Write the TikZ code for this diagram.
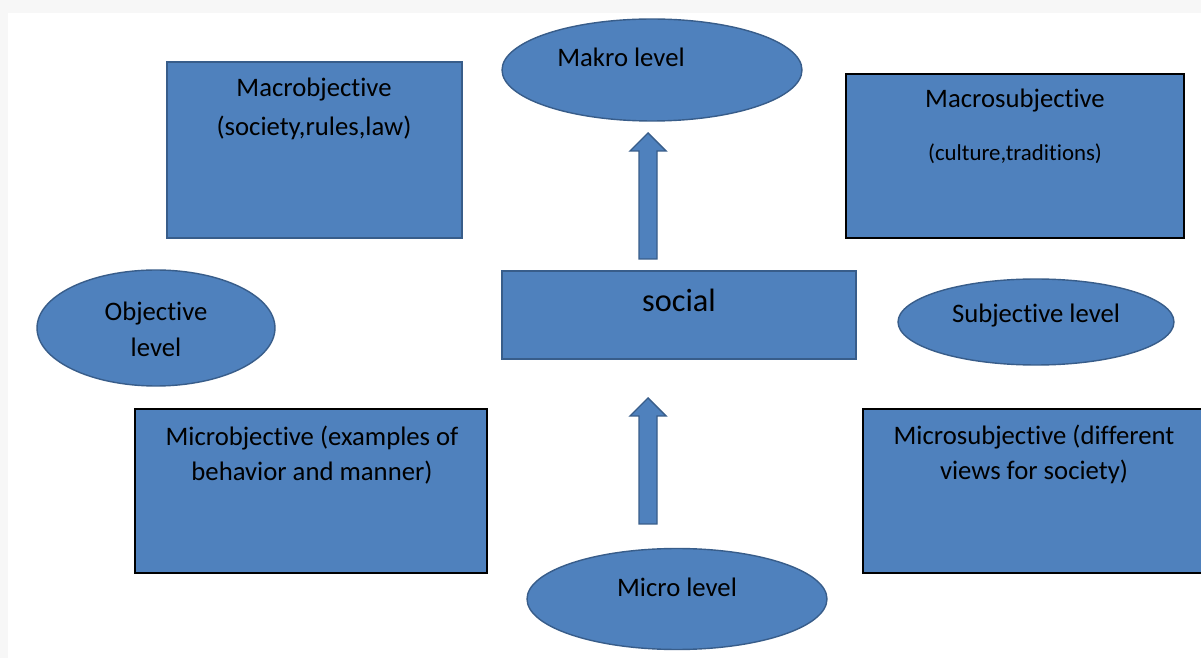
\documentclass[tikz,border=0pt]{standalone}
\usepackage{fontspec}
\setmainfont{Carlito}[Ligatures=NoCommon]
\usetikzlibrary{shapes.geometric}
\definecolor{boxblue}{HTML}{4F81BD}
\definecolor{edgeblue}{HTML}{385D8A}
\definecolor{pagegray}{HTML}{F7F7F7}

\begin{document}
\begin{tikzpicture}[x=0.02cm,y=-0.02cm,
    box/.style={draw=black,line width=1pt,fill=boxblue,inner sep=0pt},
    bluebox/.style={box,draw=edgeblue},
    level/.style={ellipse,draw=edgeblue,line width=0.8pt,fill=boxblue,inner sep=0pt},
    txt/.style={anchor=base,align=center,inner sep=0pt,font=\fontsize{15.2}{20}\selectfont},
    blockarrow/.style={draw=edgeblue,line width=0.8pt,fill=boxblue,line join=miter},
]
\useasboundingbox (0,0) rectangle (1201,658);
\fill[pagegray] (0,0) rectangle (1201,658);
\fill[white] (8,13) rectangle (1201,658);

% boxes
\node[bluebox,minimum width=5.9cm,minimum height=3.52cm] (macobj) at (314.5,150) {};
\node[box,minimum width=6.76cm,minimum height=3.28cm] (macsubj) at (1015,156) {};
\node[bluebox,minimum width=7.08cm,minimum height=1.76cm] (social) at (679,315) {};
\node[box,minimum width=7.04cm,minimum height=3.28cm] (micobj) at (311,491) {};
\node[box,minimum width=7.04cm,minimum height=3.28cm] (micsubj) at (1039,491) {};

% levels
\node[level,minimum width=6cm,minimum height=2.04cm] (makro) at (652,70) {};
\node[level,minimum width=4.76cm,minimum height=2.32cm] (objlvl) at (156,328) {};
\node[level,minimum width=5.52cm,minimum height=1.72cm] (subjlvl) at (1036,322) {};
\node[level,minimum width=6cm,minimum height=2.02cm] (micro) at (677,599) {};

% texts (base = last line)
\node[txt,font=\fontsize{15.2}{22.6}\selectfont] (macobjtxt) at (314,136) {Macrobjective\\(society,rules,law)};
\node[txt] (macsubjtxt) at (1015,108) {Macrosubjective};
\node[txt,font=\fontsize{13}{15}\selectfont] (macsubjsub) at (1015,161) {(culture,traditions)};
\node[txt,font=\fontsize{18.4}{22}\selectfont] (socialtxt) at (679,312) {social};
\node[txt,font=\fontsize{15.2}{20.2}\selectfont] (micobjtxt) at (312,481) {Microbjective (examples of\\behavior and manner)};
\node[txt,font=\fontsize{15.2}{20.2}\selectfont] (micsubjtxt) at (1034,480) {Microsubjective (different\\views for society)};
\node[txt] (makrotxt) at (621,67) {Makro level};
\node[txt,font=\fontsize{15.2}{21}\selectfont] (objtxt) at (156,357) {Objective\\level};
\node[txt] (subjtxt) at (1036,323) {Subjective level};
\node[txt] (microtxt) at (677,597) {Micro level};

% upward block arrows
\foreach \tip/\foot in {133/259,398/524}
  \filldraw[blockarrow] (648,\tip) -- (666,\tip+18) -- (657,\tip+18) -- (657,\foot)
    -- (639,\foot) -- (639,\tip+18) -- (630,\tip+18) -- cycle;
\end{tikzpicture}
\end{document}
